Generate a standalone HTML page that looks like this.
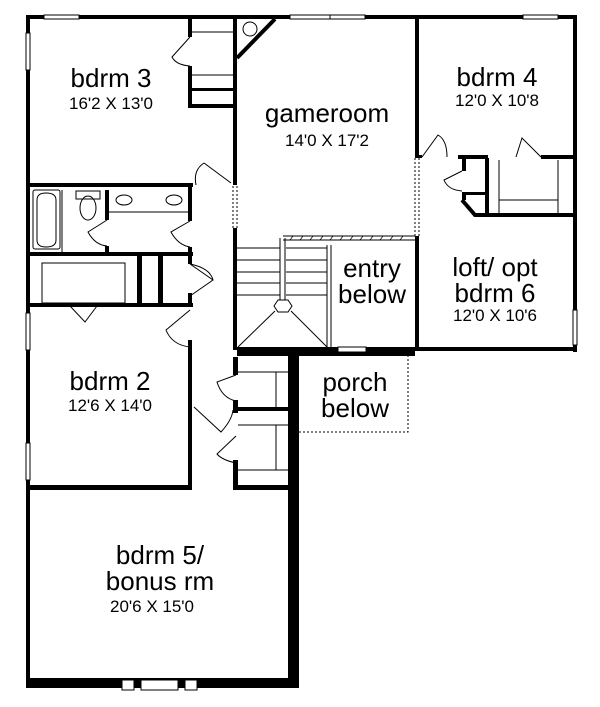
<!DOCTYPE html>
<html><head><meta charset="utf-8"><style>
html,body{margin:0;padding:0;background:#fff;}
svg{display:block;}
text{font-family:"Liberation Sans",Arial,sans-serif;fill:#000;text-anchor:middle;}
.t{font-size:26px;}
.d{font-size:17px;}
</style></head><body>
<svg width="600" height="707" viewBox="0 0 600 707" xmlns="http://www.w3.org/2000/svg">
<rect width="600" height="707" fill="#fff"/>
<g fill="#000">
<rect x="26" y="15" width="551" height="4"/>
<rect x="26" y="15" width="4" height="673"/>
<rect x="573" y="15" width="4" height="337"/>
<rect x="26" y="678" width="273" height="10"/>
<rect x="288" y="347" width="11" height="341"/>
<rect x="237" y="347" width="178" height="9"/>
<rect x="415" y="347" width="162" height="4"/>
<rect x="30" y="183" width="163" height="4"/>
<rect x="188" y="19" width="4" height="18"/>
<rect x="188" y="66" width="4" height="42"/>
<rect x="188" y="104" width="47" height="4"/>
<rect x="192" y="88" width="43" height="3"/>
<rect x="233" y="19" width="4" height="166"/>
<rect x="233" y="228" width="4" height="122"/>
<rect x="415" y="19" width="4" height="139"/>
<rect x="415" y="236" width="4" height="114"/>
<rect x="419" y="155" width="3" height="3"/>
<rect x="458" y="155" width="30" height="4"/>
<rect x="541" y="155" width="36" height="4"/>
<rect x="485" y="158" width="4" height="58"/>
<rect x="462" y="158" width="4" height="13"/>
<rect x="462" y="192" width="4" height="8"/>
<rect x="466" y="192" width="20" height="3"/>
<rect x="477" y="213" width="100" height="4"/>
<rect x="26" y="252" width="167" height="4"/>
<rect x="26" y="303" width="167" height="4"/>
<rect x="188" y="187" width="4" height="34"/>
<rect x="188" y="247" width="4" height="9"/>
<rect x="188" y="256" width="4" height="8"/>
<rect x="188" y="293" width="4" height="14"/>
<rect x="105" y="190" width="4" height="30"/>
<rect x="105" y="246" width="4" height="6"/>
<rect x="137" y="256" width="5" height="47"/>
<rect x="158" y="256" width="5" height="47"/>
<rect x="188" y="340" width="4" height="150"/>
<rect x="26" y="485" width="166" height="5"/>
<rect x="233" y="357" width="5" height="18"/>
<rect x="233" y="400" width="5" height="13"/>
<rect x="233" y="460" width="5" height="30"/>
<rect x="238" y="407" width="50" height="4"/>
<rect x="233" y="485" width="55" height="5"/>
</g>
<g fill="none" stroke="#000" stroke-width="1">
<rect x="44" y="15" width="35" height="4" fill="#fff"/>
<rect x="290" y="15" width="40" height="4" fill="#fff"/>
<rect x="330" y="15" width="35" height="4" fill="#fff"/>
<rect x="523" y="15" width="35" height="4" fill="#fff"/>
<rect x="26" y="33" width="4" height="37" fill="#fff"/>
<rect x="26" y="313" width="4" height="37" fill="#fff"/>
<rect x="26" y="443" width="4" height="37" fill="#fff"/>
<rect x="573" y="310" width="4" height="35" fill="#fff"/>
<rect x="338" y="347" width="28" height="5" fill="#fff"/>
<rect x="122" y="680" width="12" height="10" fill="#fff"/>
<rect x="141" y="680" width="37" height="10" fill="#fff"/>
<rect x="185" y="680" width="12" height="10" fill="#fff"/>
<line x1="192" y1="32" x2="233" y2="32"/>
<line x1="192" y1="75" x2="233" y2="75"/>
<line x1="237" y1="58" x2="275" y2="19" stroke-width="4"/>
<circle cx="250" cy="29" r="7"/>
<line x1="233" y1="186" x2="233" y2="228" stroke-dasharray="2,2"/>
<line x1="237" y1="186" x2="237" y2="228" stroke-dasharray="2,2"/>
<line x1="415" y1="158" x2="415" y2="236" stroke-dasharray="2,2"/>
<line x1="419" y1="158" x2="419" y2="236" stroke-dasharray="2,2"/>
<polyline points="299,432 408,432 408,352" stroke-dasharray="2,2"/>
<line x1="499" y1="160" x2="499" y2="213"/>
<line x1="499" y1="200" x2="558" y2="200"/>
<line x1="558" y1="160" x2="558" y2="213"/>
<polyline points="462,200 475,215 477,215" stroke-width="4"/>
<g stroke-width="1">
<line x1="237" y1="248" x2="280" y2="248"/><line x1="237" y1="260" x2="280" y2="260"/>
<line x1="237" y1="272" x2="280" y2="272"/><line x1="237" y1="283" x2="280" y2="283"/>
<line x1="237" y1="295" x2="280" y2="295"/>
<line x1="286" y1="248" x2="327" y2="248"/><line x1="286" y1="260" x2="327" y2="260"/>
<line x1="286" y1="272" x2="327" y2="272"/><line x1="286" y1="283" x2="327" y2="283"/>
<line x1="286" y1="295" x2="327" y2="295"/>
<line x1="280" y1="238" x2="280" y2="300"/><line x1="285" y1="238" x2="285" y2="300"/>
<line x1="327" y1="245" x2="327" y2="348"/><line x1="331" y1="245" x2="331" y2="348"/>
<line x1="283" y1="236" x2="415" y2="236"/><line x1="283" y1="240" x2="415" y2="240"/>
<polygon points="278,300 288,300 292,306 288,312 278,312 274,306"/>
<line x1="275" y1="311" x2="238" y2="347"/><line x1="291" y1="311" x2="327" y2="347"/>
</g>
<rect x="33" y="190" width="27" height="59" rx="2"/>
<path d="M37 200 Q37 193 46 193 Q56 193 56 200 V240 Q56 247 46 247 Q37 247 37 240 Z"/>
<line x1="62" y1="190" x2="62" y2="252"/>
<rect x="76" y="191" width="24" height="8"/>
<ellipse cx="88" cy="208" rx="8" ry="12"/>
<line x1="109" y1="212" x2="188" y2="212"/>
<ellipse cx="124" cy="200" rx="8" ry="5"/>
<ellipse cx="174" cy="200" rx="8" ry="5"/>
<rect x="42" y="263" width="83" height="40"/>
<line x1="238" y1="372" x2="288" y2="372"/>
<line x1="276" y1="372" x2="276" y2="407"/>
<line x1="276" y1="425" x2="276" y2="470"/>
<line x1="238" y1="425" x2="288" y2="425"/>
<line x1="238" y1="470" x2="288" y2="470"/>
<path d="M190 37 L172 57 Q176 65 190 66"/>
<path d="M204 163 L231 183 M204 163 Q193 170 196 185"/>
<path d="M107 220 L88 232 Q95 245 107 246"/>
<path d="M190 221 L171 232 Q178 245 190 247"/>
<path d="M190 264 L213 280 L190 296 M190 264 Q210 268 213 280"/>
<path d="M70 306 L85 322 L97 306"/>
<path d="M190 310 L166 330 Q172 345 190 347"/>
<path d="M422 157 L438 135 Q447 140 447 157"/>
<path d="M516 157 L522 138 L541 157"/>
<path d="M462 171 L444 180 Q448 190 462 191"/>
<path d="M236 375 L217 382 Q222 398 236 401"/>
<path d="M194 407 L221 432 Q232 420 233 410"/>
<path d="M236 436 L217 454 Q222 460 236 463"/>
</g>
<g stroke="#000" stroke-width="0.7">
<line x1="290" y1="240" x2="293" y2="236"/><line x1="300" y1="240" x2="303" y2="236"/><line x1="310" y1="240" x2="313" y2="236"/><line x1="320" y1="240" x2="323" y2="236"/><line x1="330" y1="240" x2="333" y2="236"/><line x1="340" y1="240" x2="343" y2="236"/><line x1="350" y1="240" x2="353" y2="236"/><line x1="360" y1="240" x2="363" y2="236"/><line x1="370" y1="240" x2="373" y2="236"/><line x1="380" y1="240" x2="383" y2="236"/><line x1="390" y1="240" x2="393" y2="236"/><line x1="400" y1="240" x2="403" y2="236"/>
</g>
<text class="t" x="111" y="87">bdrm 3</text>
<text class="d" x="111" y="109">16'2 X 13'0</text>
<text class="t" x="327" y="122">gameroom</text>
<text class="d" x="327" y="146">14'0 X 17'2</text>
<text class="t" x="497" y="86">bdrm 4</text>
<text class="d" x="497" y="106">12'0 X 10'8</text>
<text class="t" x="495" y="276">loft/ opt</text>
<text class="t" x="495" y="302">bdrm 6</text>
<text class="d" x="495" y="321">12'0 X 10'6</text>
<text class="t" x="372" y="277">entry</text>
<text class="t" x="372" y="303">below</text>
<text class="t" x="110" y="390">bdrm 2</text>
<text class="d" x="110" y="411">12'6 X 14'0</text>
<text class="t" x="355" y="391">porch</text>
<text class="t" x="355" y="417">below</text>
<text class="t" x="160" y="564">bdrm 5/</text>
<text class="t" x="160" y="590">bonus rm</text>
<text class="d" x="152" y="612">20'6 X 15'0</text>
</svg>
</body></html>
